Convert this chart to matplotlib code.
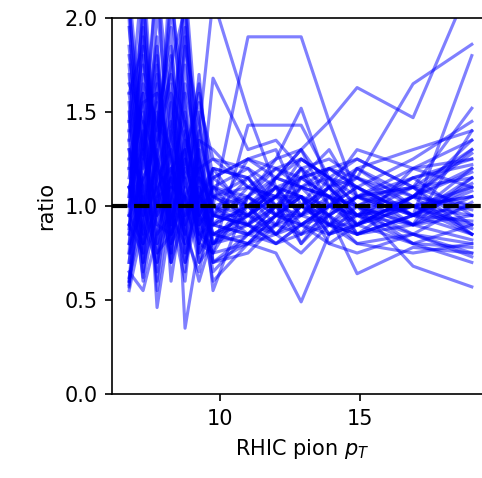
import numpy as np
import matplotlib
matplotlib.use("Agg")
import matplotlib.pyplot as plt

# RHIC pion pT bins
pt = [6.75, 7.25, 7.75, 8.25, 8.75, 9.25, 9.75, 11.0, 12.0, 12.9, 13.9, 14.9, 16.9, 19.0]

# ratio curves, one per sample
ratios = [
    [1.95, 1.20, 2.30, 0.85, 1.60, 0.90, 1.00, 1.90, 1.90, 1.90, 1.45, 1.05, 0.95, 1.10],
    [0.60, 1.45, 0.95, 1.80, 0.35, 0.80, 0.75, 1.43, 1.43, 1.43, 1.15, 0.90, 1.05, 0.85],
    [1.30, 0.70, 1.75, 1.10, 2.20, 1.25, 0.55, 1.05, 1.25, 1.52, 1.10, 0.85, 0.95, 1.20],
    [0.85, 2.10, 1.05, 1.40, 0.95, 1.70, 0.90, 1.00, 1.15, 1.30, 1.45, 1.63, 1.47, 2.20],
    [1.10, 0.95, 1.50, 0.75, 1.25, 1.05, 1.20, 0.95, 1.05, 1.00, 1.10, 1.15, 1.65, 1.86],
    [1.60, 1.85, 0.80, 1.20, 1.05, 0.70, 0.95, 0.90, 0.85, 0.95, 0.90, 0.85, 0.95, 1.80],
    [0.55, 0.90, 1.25, 2.05, 1.40, 0.95, 1.10, 1.20, 1.00, 0.85, 1.05, 1.00, 0.68, 0.57],
    [1.25, 1.60, 0.46, 0.95, 1.75, 1.15, 0.85, 0.80, 0.75, 0.49, 0.85, 0.90, 0.80, 0.70],
    [0.95, 1.15, 1.35, 1.65, 0.80, 1.30, 0.70, 0.75, 0.90, 1.10, 0.95, 0.64, 0.78, 0.75],
    [2.00, 0.65, 1.10, 0.90, 1.30, 1.55, 1.25, 1.10, 1.20, 1.25, 1.15, 1.05, 1.10, 1.52],
    [1.45, 2.25, 1.20, 1.05, 0.85, 1.40, 2.10, 1.50, 1.10, 0.95, 1.00, 0.90, 1.00, 1.05],
    [0.75, 1.05, 0.65, 1.35, 2.15, 0.95, 1.68, 1.30, 1.35, 1.20, 0.90, 0.95, 0.85, 0.80],
    [1.80, 1.30, 1.90, 0.70, 1.15, 0.85, 0.80, 0.90, 1.00, 1.15, 1.20, 1.10, 0.90, 1.40],
    [0.65, 0.55, 0.85, 1.15, 1.50, 0.75, 0.95, 1.05, 0.95, 1.05, 0.85, 1.00, 1.15, 0.95],
    [1.05, 1.75, 1.40, 1.95, 0.70, 1.10, 0.65, 0.85, 0.80, 0.90, 1.00, 1.20, 1.05, 1.30],
    [1.55, 0.80, 1.00, 1.25, 1.85, 1.45, 1.05, 1.15, 1.25, 1.30, 1.10, 0.95, 1.00, 0.90],
    [0.70, 1.35, 2.20, 1.50, 0.90, 0.60, 0.85, 0.95, 1.10, 0.80, 0.95, 1.05, 0.90, 1.15],
    [2.10, 1.00, 0.75, 0.85, 1.20, 1.60, 1.15, 1.00, 0.85, 1.00, 1.20, 1.25, 1.10, 1.00],
    [1.20, 1.55, 1.60, 0.60, 1.10, 0.90, 0.75, 0.80, 0.95, 1.05, 0.80, 0.75, 0.85, 0.73],
    [0.90, 0.75, 1.30, 1.75, 2.05, 1.20, 0.95, 1.25, 1.15, 1.10, 1.05, 0.90, 1.20, 1.25],
    [1.40, 2.00, 0.90, 1.10, 0.65, 1.35, 1.30, 1.10, 1.05, 1.20, 1.25, 1.15, 1.00, 1.10],
    [0.58, 1.10, 1.55, 0.80, 1.45, 1.00, 0.85, 0.90, 0.80, 0.85, 0.90, 0.80, 0.75, 0.80],
    [1.70, 0.85, 1.15, 2.30, 1.00, 0.80, 1.05, 1.00, 1.10, 0.95, 1.10, 1.30, 1.20, 1.35],
    [1.00, 1.40, 0.70, 1.00, 1.65, 1.25, 0.90, 0.85, 0.90, 1.15, 1.05, 0.85, 0.95, 1.00],
    [0.80, 1.65, 1.45, 1.30, 0.75, 1.05, 1.15, 1.25, 1.30, 1.00, 0.90, 1.05, 1.10, 0.85],
    [1.35, 0.60, 1.00, 1.60, 1.35, 0.70, 0.80, 0.95, 1.05, 1.25, 1.15, 1.00, 0.80, 0.90],
    [2.05, 1.25, 1.85, 0.95, 0.80, 1.15, 1.00, 1.05, 0.95, 0.90, 0.80, 0.90, 1.05, 1.20],
    [0.62, 0.95, 1.20, 1.45, 1.10, 1.50, 0.70, 0.85, 1.00, 1.10, 1.20, 1.10, 1.25, 1.45],
    [1.15, 1.50, 0.55, 1.05, 1.95, 0.90, 1.20, 1.15, 0.95, 1.05, 1.00, 0.95, 0.90, 1.05],
    [1.50, 0.80, 1.65, 1.25, 0.85, 1.30, 0.95, 0.90, 1.15, 1.30, 1.00, 1.10, 0.95, 0.85],
    [0.95, 2.15, 1.10, 0.75, 1.40, 1.00, 0.60, 0.80, 0.85, 0.75, 0.90, 0.85, 0.90, 0.95],
    [1.85, 1.05, 0.80, 1.55, 1.15, 0.85, 1.10, 1.05, 1.20, 1.15, 1.30, 1.05, 1.15, 1.25],
    [0.70, 1.30, 1.70, 0.90, 1.25, 1.65, 1.00, 0.95, 0.90, 1.00, 0.95, 1.20, 1.30, 1.40],
    [1.25, 0.70, 0.95, 1.15, 0.90, 1.10, 0.80, 1.00, 1.05, 0.90, 0.85, 0.95, 1.00, 0.88],
    [1.05, 1.90, 1.35, 2.10, 1.55, 0.75, 0.90, 0.85, 0.95, 0.95, 1.05, 1.15, 0.95, 1.15],
    [0.60, 1.15, 0.90, 0.85, 1.05, 1.20, 1.25, 1.20, 1.10, 1.05, 0.95, 0.85, 1.05, 1.00],
    [1.65, 1.45, 1.25, 1.00, 0.70, 0.95, 0.85, 0.80, 0.95, 1.20, 1.10, 0.95, 0.80, 0.78],
    [1.10, 0.85, 2.05, 1.35, 1.15, 1.40, 1.05, 1.10, 1.00, 0.80, 1.00, 1.05, 1.20, 1.10],
    [0.88, 1.70, 1.05, 0.70, 1.90, 0.85, 0.75, 1.05, 1.15, 1.25, 1.15, 1.25, 1.10, 1.30],
    [1.45, 1.00, 1.45, 1.85, 1.00, 1.05, 0.95, 0.95, 0.85, 1.00, 0.90, 1.00, 0.90, 1.00],
    [2.15, 1.35, 0.60, 1.20, 1.30, 0.80, 1.15, 1.25, 1.20, 1.10, 1.05, 0.90, 1.05, 1.18],
    [0.75, 1.95, 1.15, 0.95, 0.60, 1.25, 0.95, 0.90, 1.00, 0.95, 1.15, 1.10, 0.95, 0.92],
    [1.20, 0.62, 1.40, 1.70, 1.45, 0.95, 0.70, 0.80, 0.90, 0.85, 0.95, 0.80, 0.85, 0.75],
    [1.00, 1.20, 1.80, 0.80, 0.95, 1.35, 1.10, 1.00, 1.10, 1.15, 1.20, 1.15, 1.05, 1.35],
    [1.75, 0.90, 0.70, 1.40, 2.00, 1.10, 0.85, 0.95, 1.05, 1.05, 0.85, 0.90, 1.00, 1.05],
    [0.57, 1.25, 1.00, 1.15, 0.85, 0.65, 1.00, 0.90, 0.80, 0.90, 1.00, 1.00, 0.90, 0.82],
    [1.35, 1.80, 1.20, 0.90, 1.35, 1.15, 0.80, 0.85, 0.95, 1.10, 1.05, 0.95, 1.15, 1.22],
    [0.85, 1.05, 1.60, 1.25, 0.75, 1.00, 1.20, 1.15, 1.00, 1.00, 1.10, 1.20, 1.00, 0.95],
    [1.10, 1.30, 0.95, 1.10, 1.05, 0.85, 0.90, 1.10, 1.05, 1.15, 1.05, 1.00, 1.10, 1.15],
    [0.95, 0.80, 1.15, 1.30, 0.90, 1.15, 1.05, 0.95, 1.10, 1.05, 0.95, 1.05, 0.95, 1.08],
    [1.30, 1.10, 0.85, 0.95, 1.20, 1.05, 0.80, 1.05, 0.90, 0.95, 1.10, 0.95, 1.05, 0.98],
    [0.80, 1.00, 1.25, 0.85, 1.05, 0.95, 1.10, 0.90, 1.05, 1.20, 1.00, 1.10, 0.95, 1.12],
    [1.60, 0.95, 1.10, 1.20, 0.95, 1.20, 0.95, 1.15, 0.95, 0.90, 1.00, 0.95, 1.10, 0.90],
    [1.00, 1.60, 0.75, 1.05, 1.25, 0.90, 1.05, 0.95, 1.15, 1.10, 1.15, 1.00, 0.85, 1.02],
    [0.90, 1.15, 1.30, 0.70, 0.95, 1.05, 0.90, 1.00, 0.85, 0.90, 0.95, 1.05, 1.00, 0.85],
    [1.40, 0.75, 1.05, 1.10, 1.30, 0.80, 1.00, 0.85, 1.00, 1.05, 0.90, 0.90, 1.05, 1.28],
]

fig = plt.figure(figsize=(482/150, 478/150), dpi=150)
ax = fig.add_axes([0.2324, 0.1757, 0.79, 0.7866])

for r in ratios:
    ax.plot(pt, r, color='b', alpha=0.5)

ax.axhline(1.0, color='k', ls='--', lw=2)

ax.set_xlim(6.14, 19.75)
ax.set_ylim(0, 2)
ax.set_xticks([10, 15])
ax.set_yticks([0.0, 0.5, 1.0, 1.5, 2.0])
ax.set_xlabel("RHIC pion $p_T$")
ax.set_ylabel("ratio")

fig.savefig("out.png", dpi=150)
